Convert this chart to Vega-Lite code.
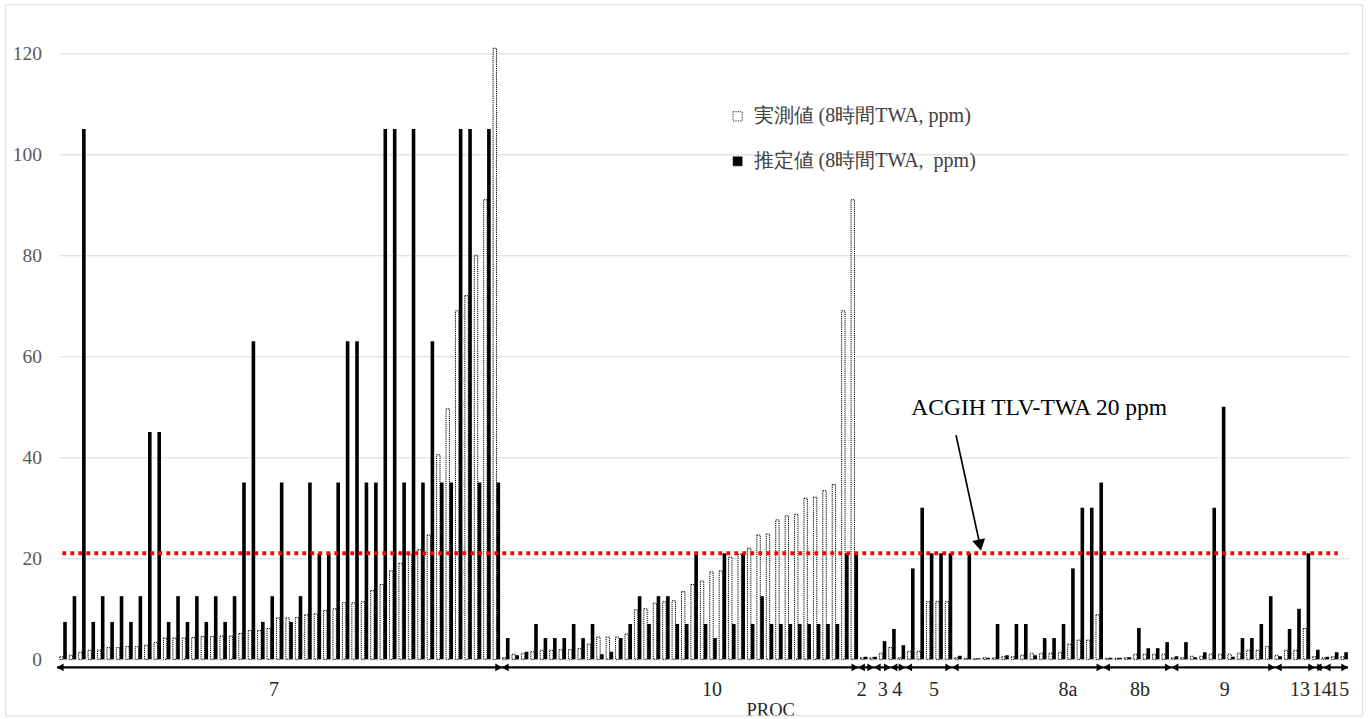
{
  "$schema": "https://vega.github.io/schema/vega-lite/v6.json",
  "width": 1290.5,
  "height": 606,
  "autosize": "none",
  "padding": {"left": 58.6, "top": 53.3, "right": 20.9, "bottom": 59.7},
  "background": "white",
  "config": {
    "view": {"stroke": null},
    "font": "Liberation Serif",
    "axis": {"labelFont": "Liberation Serif"}
  },
  "datasets": {
    "bars": [
      {"i":1,"m":0.5,"e":7.4},{"i":2,"m":0.8,"e":12.5},{"i":3,"m":1.4,"e":105},{"i":4,"m":1.8,"e":7.4},{"i":5,"m":1.8,"e":12.5},
      {"i":6,"m":2.3,"e":7.4},{"i":7,"m":2.3,"e":12.5},{"i":8,"m":2.5,"e":7.4},{"i":9,"m":2.5,"e":12.5},{"i":10,"m":2.8,"e":45},
      {"i":11,"m":3.3,"e":45},{"i":12,"m":4.2,"e":7.4},{"i":13,"m":4.2,"e":12.5},{"i":14,"m":4.2,"e":7.4},{"i":15,"m":4.3,"e":12.5},
      {"i":16,"m":4.5,"e":7.4},{"i":17,"m":4.5,"e":12.5},{"i":18,"m":4.6,"e":7.4},{"i":19,"m":4.6,"e":12.5},{"i":20,"m":5.1,"e":35},
      {"i":21,"m":5.7,"e":63},{"i":22,"m":5.7,"e":7.4},{"i":23,"m":6.1,"e":12.5},{"i":24,"m":8.2,"e":35},{"i":25,"m":8.2,"e":7.4},
      {"i":26,"m":8.3,"e":12.5},{"i":27,"m":8.8,"e":35},{"i":28,"m":9.0,"e":21},{"i":29,"m":9.7,"e":21},{"i":30,"m":10.0,"e":35},
      {"i":31,"m":11.2,"e":63},{"i":32,"m":11.2,"e":63},{"i":33,"m":11.4,"e":35},{"i":34,"m":13.6,"e":35},{"i":35,"m":14.8,"e":105},
      {"i":36,"m":17.5,"e":105},{"i":37,"m":19.0,"e":35},{"i":38,"m":20.7,"e":105},{"i":39,"m":21.7,"e":35},{"i":40,"m":24.6,"e":63},
      {"i":41,"m":40.5,"e":35},{"i":42,"m":49.6,"e":35},{"i":43,"m":69,"e":105},{"i":44,"m":72,"e":105},{"i":45,"m":80,"e":35},
      {"i":46,"m":91,"e":105},{"i":47,"m":121,"e":35},
      {"i":48,"m":0.3,"e":4.2},{"i":49,"m":1.0,"e":0.8},{"i":50,"m":1.2,"e":1.5},{"i":51,"m":1.5,"e":7},{"i":52,"m":1.8,"e":4.2},
      {"i":53,"m":1.8,"e":4.2},{"i":54,"m":1.9,"e":4.2},{"i":55,"m":1.9,"e":7},{"i":56,"m":2.1,"e":4.2},{"i":57,"m":3.0,"e":7},
      {"i":58,"m":4.4,"e":1.0},{"i":59,"m":4.4,"e":1.5},{"i":60,"m":4.4,"e":4.2},{"i":61,"m":5.0,"e":7},{"i":62,"m":9.8,"e":12.5},
      {"i":63,"m":10.0,"e":7},{"i":64,"m":11.1,"e":12.5},{"i":65,"m":11.4,"e":12.5},{"i":66,"m":11.6,"e":7},{"i":67,"m":13.4,"e":7},
      {"i":68,"m":14.8,"e":21},{"i":69,"m":15.5,"e":7},{"i":70,"m":17.3,"e":4.2},{"i":71,"m":17.5,"e":21},{"i":72,"m":20.2,"e":7},
      {"i":73,"m":20.8,"e":21},{"i":74,"m":22.0,"e":7},{"i":75,"m":24.6,"e":12.5},{"i":76,"m":24.8,"e":7},{"i":77,"m":27.6,"e":7},
      {"i":78,"m":28.4,"e":7},{"i":79,"m":28.7,"e":7},{"i":80,"m":31.9,"e":7},{"i":81,"m":32.1,"e":7},{"i":82,"m":33.4,"e":7},
      {"i":83,"m":34.6,"e":7},{"i":84,"m":69,"e":21},{"i":85,"m":91,"e":21},
      {"i":86,"m":0.3,"e":0.5},{"i":87,"m":0.3,"e":0.5},{"i":88,"m":1.2,"e":3.6},{"i":89,"m":2.3,"e":6},{"i":90,"m":0.3,"e":2.8},
      {"i":91,"m":1.6,"e":18},{"i":92,"m":1.6,"e":30},{"i":93,"m":11.4,"e":21},{"i":94,"m":11.4,"e":21},{"i":95,"m":11.4,"e":21},
      {"i":96,"m":0.3,"e":0.7},{"i":97,"m":0.2,"e":21},{"i":98,"m":0.1,"e":0.2},{"i":99,"m":0.3,"e":0.3},{"i":100,"m":0.3,"e":7},
      {"i":101,"m":0.5,"e":0.8},{"i":102,"m":0.5,"e":7},{"i":103,"m":0.8,"e":7},{"i":104,"m":1.2,"e":0.8},{"i":105,"m":1.2,"e":4.2},
      {"i":106,"m":1.2,"e":4.2},{"i":107,"m":1.4,"e":7},{"i":108,"m":3.0,"e":18},{"i":109,"m":3.8,"e":30},{"i":110,"m":3.8,"e":30},
      {"i":111,"m":8.8,"e":35},{"i":112,"m":0.2,"e":0.3},{"i":113,"m":0.2,"e":0.3},{"i":114,"m":0.3,"e":0.4},{"i":115,"m":1.0,"e":6.2},
      {"i":116,"m":1.0,"e":2.2},{"i":117,"m":1.0,"e":2.2},{"i":118,"m":1.0,"e":3.4},{"i":119,"m":0.3,"e":0.6},{"i":120,"m":0.3,"e":3.4},
      {"i":121,"m":0.6,"e":0.4},{"i":122,"m":0.6,"e":1.4},{"i":123,"m":1.0,"e":30},{"i":124,"m":1.0,"e":50},{"i":125,"m":1.0,"e":0.5},
      {"i":126,"m":1.2,"e":4.2},{"i":127,"m":1.8,"e":4.2},{"i":128,"m":1.8,"e":7},{"i":129,"m":2.5,"e":12.5},{"i":130,"m":0.8,"e":0.6},
      {"i":131,"m":1.8,"e":6},{"i":132,"m":1.8,"e":10},{"i":133,"m":6.1,"e":21},{"i":134,"m":0.5,"e":1.9},{"i":135,"m":0.3,"e":0.5},
      {"i":136,"m":0.5,"e":1.4},{"i":137,"m":0.5,"e":1.4}
    ],
    "groups": [
      {"g":"7","s":0.33,"e":47.57,"lx":23.37},
      {"g":"10","s":47.57,"e":85.39,"lx":69.86},
      {"g":"2","s":85.39,"e":87.06,"lx":85.75},
      {"g":"3","s":87.06,"e":88.83,"lx":87.98},
      {"g":"4","s":88.83,"e":90.4,"lx":89.53},
      {"g":"5","s":90.4,"e":95.34,"lx":93.43},
      {"g":"8a","s":95.34,"e":111.4,"lx":107.66},
      {"g":"8b","s":111.4,"e":118.66,"lx":115.3},
      {"g":"9","s":118.66,"e":129.63,"lx":124.3},
      {"g":"13","s":129.63,"e":133.87,"lx":132.28},
      {"g":"14","s":133.87,"e":134.83,"lx":134.59},
      {"g":"15","s":134.83,"e":137.38,"lx":136.46}
    ]
  },
  "layer": [
    {
      "data": {"name": "bars"},
      "mark": {"type": "bar", "orient": "vertical", "width": 3.4, "xOffset": -1.8, "stroke": "#000000", "strokeWidth": 1, "strokeDash": [1.2, 0.9]},
      "encoding": {
        "x": {"field": "i", "type": "quantitative", "scale": {"domain": [0.5, 137.5], "nice": false, "zero": false, "padding": 0}, "axis": null},
        "y": {"field": "m", "type": "quantitative", "scale": {"domain": [0, 120], "nice": false},
          "axis": {"title": null, "values": [0, 20, 40, 60, 80, 100, 120], "ticks": false, "domain": false, "labelFontSize": 19.5, "labelColor": "#595959", "labelPadding": 17, "gridColor": "#d9d9d9", "gridWidth": 1}},
        "fill": {"datum": "実測値 (8時間TWA, ppm)", "type": "nominal",
          "scale": {"domain": ["実測値 (8時間TWA, ppm)", "推定値 (8時間TWA,\u00a0\u00a0ppm)"], "range": ["white", "black"]},
          "legend": {"orient": "none", "legendX": 669, "legendY": 53, "title": null, "direction": "vertical", "symbolType": "square", "symbolSize": 85, "symbolStrokeColor": "#222222", "symbolStrokeWidth": 1, "symbolDash": [1.2, 1.2], "labelFont": "Liberation Serif", "labelFontSize": 20, "labelColor": "#404040", "rowPadding": 25, "labelOffset": 6, "padding": 0, "labelLimit": 400}}
      }
    },
    {
      "data": {"name": "bars"},
      "mark": {"type": "bar", "orient": "vertical", "width": 3.6, "xOffset": 1.7},
      "encoding": {
        "x": {"field": "i", "type": "quantitative"},
        "y": {"field": "e", "type": "quantitative"},
        "fill": {"datum": "推定値 (8時間TWA,\u00a0\u00a0ppm)", "type": "nominal"}
      }
    },
    {
      "data": {"values": [{}]},
      "mark": {"type": "rule", "color": "#ff0000", "strokeWidth": 3.8, "strokeDash": [3.8, 4.2]},
      "encoding": {"x": {"datum": 0.9}, "x2": {"datum": 136.3}, "y": {"datum": 21}}
    },
    {
      "data": {"name": "groups"},
      "mark": {"type": "rule", "color": "black", "strokeWidth": 2.2},
      "encoding": {"x": {"field": "s", "type": "quantitative"}, "x2": {"field": "e"}, "y": {"datum": -1.6}}
    },
    {
      "data": {"name": "groups"},
      "mark": {"type": "point", "shape": "triangle-left", "filled": true, "color": "black", "opacity": 1, "size": 60, "xOffset": 3.3},
      "encoding": {"x": {"field": "s", "type": "quantitative"}, "y": {"datum": -1.6}}
    },
    {
      "data": {"name": "groups"},
      "mark": {"type": "point", "shape": "triangle-right", "filled": true, "color": "black", "opacity": 1, "size": 60, "xOffset": -3.3},
      "encoding": {"x": {"field": "e", "type": "quantitative"}, "y": {"datum": -1.6}}
    },
    {
      "data": {"name": "groups"},
      "mark": {"type": "text", "font": "Liberation Serif", "fontSize": 20, "color": "#262626", "baseline": "middle", "align": "center"},
      "encoding": {"x": {"field": "lx", "type": "quantitative"}, "y": {"datum": -6.0}, "text": {"field": "g"}}
    },
    {
      "data": {"values": [{}]},
      "mark": {"type": "text", "text": "PROC", "font": "Liberation Serif", "fontSize": 18.5, "color": "#262626", "baseline": "middle", "align": "center"},
      "encoding": {"x": {"datum": 76.1}, "y": {"datum": -10.0}}
    },
    {
      "data": {"values": [{}]},
      "mark": {"type": "text", "text": "ACGIH TLV-TWA 20 ppm", "font": "Liberation Serif", "fontSize": 23.5, "color": "black", "baseline": "middle", "align": "center"},
      "encoding": {"x": {"datum": 104.6}, "y": {"datum": 49.8}}
    },
    {
      "data": {"values": [{}]},
      "mark": {"type": "rule", "color": "black", "strokeWidth": 1.7},
      "encoding": {"x": {"datum": 95.77}, "y": {"datum": 44.4}, "x2": {"datum": 98.2}, "y2": {"datum": 23.6}}
    },
    {
      "data": {"values": [{}]},
      "mark": {"type": "point", "shape": "triangle-down", "filled": true, "color": "black", "opacity": 1, "size": 170, "angle": 348},
      "encoding": {"x": {"datum": 98.3}, "y": {"datum": 22.6}}
    },
    {
      "data": {"values": [{}]},
      "mark": {"type": "rect", "fill": "white", "fillOpacity": 0, "stroke": "#d9d9d9", "strokeWidth": 1},
      "encoding": {"x": {"datum": -5.1}, "x2": {"datum": 138.95}, "y": {"datum": 129.6}, "y2": {"datum": -11.2}}
    }
  ]
}
